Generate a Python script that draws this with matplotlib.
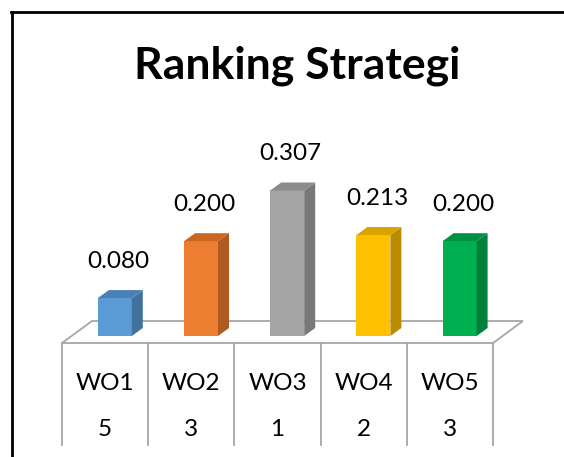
import matplotlib
matplotlib.use("Agg")
import matplotlib.pyplot as plt
from matplotlib.patches import Polygon
from matplotlib.lines import Line2D

# ---- data ----
categories = ["WO1", "WO2", "WO3", "WO4", "WO5"]
values = [0.080, 0.200, 0.307, 0.213, 0.200]
value_labels = ["0.080", "0.200", "0.307", "0.213", "0.200"]
ranks = ["5", "3", "1", "2", "3"]
title = "Ranking Strategi"

front_colors = ["#5B9BD5", "#ED7D31", "#A5A5A5", "#FFC000", "#00B050"]
side_colors = ["#41719C", "#AE5A21", "#787878", "#BC8C00", "#00813B"]
top_colors = ["#4A80B8", "#C9661F", "#8C8C8C", "#D9A300", "#009244"]

W, H = 564, 457
fig = plt.figure(figsize=(W / 100, H / 100), dpi=100)
ax = fig.add_axes([0, 0, 1, 1])
ax.set_axis_off()

# pixel mapping helpers (category units / value units)
PX_X0, PX_DX = 105.1, 86.2    # column center 0, column width in px
PX_Y0, PX_DY = 336.0, 474.0   # zero line px, px per unit value
ax.set_xlim((0 - PX_X0) / PX_DX, (W - PX_X0) / PX_DX)
ax.set_ylim((PX_Y0 - H) / PX_DY, PX_Y0 / PX_DY)

def vx(px):
    return px / PX_DX

def vy(px):
    return px / PX_DY

n = len(categories)
floor_front = -vy(7)
floor_back = vy(15)
back_off = vx(30)
grid_col = "#A6A6A6"

# floor
floor = Polygon([(-0.5, floor_front), (n - 0.5, floor_front),
                 (n - 0.5 + back_off, floor_back), (-0.5 + back_off, floor_back)],
                closed=True, facecolor="white", edgecolor=grid_col, lw=1.3, zorder=1)
ax.add_patch(floor)

# table vertical lines
table_bottom = -vy(445 - PX_Y0)
for i in range(n + 1):
    ax.add_line(Line2D([i - 0.5, i - 0.5], [floor_front, table_bottom],
                       color=grid_col, lw=1.3, zorder=1))

# bars
bw = vx(34)
off = vx(9.7)
dx = vx(11)
dy = vy(8)
for i, v in enumerate(values):
    xc = i + off
    xl, xr = xc - bw / 2, xc + bw / 2
    ax.bar(xc, v, width=bw, color=front_colors[i], zorder=3, linewidth=0)
    side = Polygon([(xr, 0), (xr + dx, dy), (xr + dx, v + dy), (xr, v)],
                   closed=True, facecolor=side_colors[i], lw=0, zorder=3)
    top = Polygon([(xl, v), (xr, v), (xr + dx, v + dy), (xl + dx, v + dy)],
                  closed=True, facecolor=top_colors[i], lw=0, zorder=3)
    ax.add_patch(side)
    ax.add_patch(top)
    ax.text(xc + dx / 2 - vx(2), v + vy(37), value_labels[i], ha="center", va="center",
            fontsize=17.5, family="Lato", color="black", zorder=4)

# category / rank labels
for i in range(n):
    ax.text(i, -vy(383 - PX_Y0), categories[i], ha="center", va="center",
            fontsize=17.5, family="Lato", color="black")
    ax.text(i, -vy(430 - PX_Y0), ranks[i], ha="center", va="center",
            fontsize=17.5, family="Lato", color="black")

# title
fig.text(297 / W, 1 - 66 / H, title, ha="center", va="center",
         fontsize=32, family="Lato", fontweight="bold", color="black")

# chart border (top and left visible)
fig.add_artist(Line2D([12 / W, 12 / W], [0, 1 - 12 / H], transform=fig.transFigure,
                      color="black", lw=2))
fig.add_artist(Line2D([11 / W, 1], [1 - 12 / H, 1 - 12 / H], transform=fig.transFigure,
                      color="black", lw=2))

fig.savefig("out.png", dpi=100, facecolor="white")
